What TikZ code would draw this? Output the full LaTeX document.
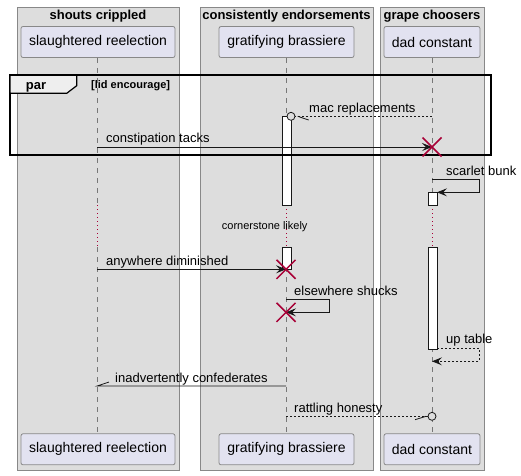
\documentclass[tikz,border=0pt]{standalone}
\usepackage{fontspec}
\setmainfont{Liberation Sans}
\usetikzlibrary{arrows.meta,calc}
\definecolor{grpfill}{HTML}{DDDDDD}
\definecolor{grpline}{HTML}{888888}
\definecolor{partfill}{HTML}{E2E2F0}
\definecolor{partline}{HTML}{888888}
\definecolor{lifec}{HTML}{777777}
\definecolor{xred}{HTML}{A80036}
\definecolor{tabfill}{HTML}{EEEEEE}
\definecolor{ink}{HTML}{181818}
\tikzset{
  grp/.style={draw=grpline, fill=grpfill, line width=0.8pt},
  grptitle/.style={font=\fontsize{13}{15}\selectfont\bfseries, anchor=base, inner sep=0pt},
  part/.style={draw=partline, fill=partfill, rounded corners=2pt, line width=0.8pt,
    font=\fontsize{14}{16}\selectfont, inner sep=0pt, minimum height=31},
  life/.style={draw=lifec, line width=0.8pt, dash pattern=on 5pt off 5pt},
  delayline/.style={draw=xred, line width=0.8pt, dash pattern=on 1pt off 3pt},
  actbar/.style={draw=ink, fill=white, line width=0.8pt},
  msg/.style={draw=ink, line width=0.8pt},
  dmsg/.style={draw=ink, line width=0.8pt, dash pattern=on 2pt off 2pt},
  headed/.style={-{Stealth[length=10pt,width=8pt,inset=4pt]}},
  lbl/.style={font=\fontsize{13}{15}\selectfont, anchor=base west, inner sep=0pt},
  destroyx/.style={draw=xred, line width=1.5pt},
  frameline/.style={draw=black, line width=1.5pt},
}
\begin{document}
\begin{tikzpicture}[x=1pt,y=-1pt]
\useasboundingbox (0,0) rectangle (521,475);
% groups
\draw[grp] (17,7) rectangle (179,470);
\draw[grp] (200,7) rectangle (373,470);
\draw[grp] (380,7) rectangle (484,470);
\node[grptitle] (g1) at (98,19.5) {shouts crippled};
\node[grptitle] (g2) at (286.5,19.5) {consistently endorsements};
\node[grptitle] (g3) at (432,19.5) {grape choosers};
% participants
\node[part, minimum width=154] (p1) at (98,42) {slaughtered reelection};
\node[part, minimum width=135] (p2) at (286.5,42) {gratifying brassiere};
\node[part, minimum width=96] (p3) at (432,42) {dad constant};
\node[part, minimum width=154] (q1) at (98,449.3) {slaughtered reelection};
\node[part, minimum width=135] (q2) at (286.5,449.3) {gratifying brassiere};
\node[part, minimum width=96] (q3) at (432,449.3) {dad constant};
% lifeline coordinates
\coordinate (a1) at (97,205); \coordinate (b1) at (97,247);
\coordinate (a2) at (286,205); \coordinate (b2) at (286,247);
\coordinate (a3) at (432,205); \coordinate (b3) at (432,247);
\draw[life] (p1.south -| a1) -- (a1);
\draw[delayline] (a1) -- (b1);
\draw[life] (b1) -- (q1.north -| b1);
\draw[life] (p2.south -| a2) -- (a2);
\draw[delayline] (a2) -- (b2);
\draw[life] (b2) -- (q2.north -| b2);
\draw[life] (p3.south -| a3) -- (a3);
\draw[delayline] (a3) -- (b3);
\draw[life] (b3) -- (q3.north -| b3);
% activation bars
\draw[actbar] (282,116.3) rectangle (291,205.7);
\draw[actbar] (282,247.3) rectangle (291,269.3);
\draw[actbar] (428,192.3) rectangle (437,205.7);
\draw[actbar] (428,247.3) rectangle (437,349);
% par frame
\draw[frameline] (10,75) rectangle (491,155);
\draw[draw=black, line width=1.2pt, fill=tabfill] (10,75) -- (76.7,75) -- (76.7,85.7) -- (66.7,93.3) -- (10,93.3) -- cycle;
\draw[frameline] (10,75) -- (491,75);
\node[font=\fontsize{13}{15}\selectfont\bfseries, anchor=base, inner sep=0pt] (parlbl) at (36,89) {par};
\node[font=\fontsize{11}{13}\selectfont\bfseries, anchor=base west, inner sep=0pt] (guard) at (91,88) {[lid encourage]};
% message 1: mac replacements
\coordinate (m1s) at (432,116.3);
\coordinate (m1c) at (291,116.3);
\coordinate (m1t) at (295,116.3);
\coordinate (m1h) at (308.7,120);
\coordinate (m1hh) at (297.7,116.3);
\draw[dmsg] (m1s) -- (m1t);
\draw[msg] (m1hh) -- (m1h);
\draw[msg, fill=grpfill] (m1c) circle (4);
\node[lbl] (l1) at (309,112.5) {mac replacements};
% message 2: constipation tacks
\coordinate (m2s) at (97,147);
\coordinate (m2e) at (432,147);
\draw[msg, headed] (m2s) -- (m2e);
\node[lbl] (l2) at (106,142) {constipation tacks};
% redraw frame bottom line over
\draw[frameline] (10,155) -- (491,155);
% message 3: scarlet bunk
\coordinate (m3s) at (432,179.3);
\coordinate (m3a) at (479,179.3);
\coordinate (m3b) at (479,192.3);
\coordinate (m3e) at (437,192.3);
\draw[msg, headed] (m3s) -- (m3a) -- (m3b) -- (m3e);
\node[lbl] (l3) at (446,175) {scarlet bunk};
% delay
\node[font=\fontsize{11}{13}\selectfont, inner sep=0pt] (delay) at (264.7,227) {cornerstone likely};
% message 4: anywhere diminished
\coordinate (m4s) at (97,269.3);
\coordinate (m4e) at (286,269.3);
\draw[msg, headed] (m4s) -- (m4e);
\node[lbl] (l4) at (106,265) {anywhere diminished};
% message 5: elsewhere shucks
\coordinate (m5s) at (286,299.3);
\coordinate (m5a) at (329,299.3);
\coordinate (m5b) at (329,312.3);
\coordinate (m5e) at (286,312.3);
\draw[msg, headed] (m5s) -- (m5a) -- (m5b) -- (m5e);
\node[lbl] (l5) at (294,295) {elsewhere shucks};
% message 6: up table
\coordinate (m6s) at (437,348.3);
\coordinate (m6a) at (479,348.3);
\coordinate (m6b) at (479,361.3);
\coordinate (m6e) at (432,361.3);
\draw[dmsg, headed] (m6s) -- (m6a) -- (m6b) -- (m6e);
\node[lbl] (l6) at (446,343) {up table};
% message 7: inadvertently confederates
\coordinate (m7s) at (286,386);
\coordinate (m7e) at (97,386);
\coordinate (m7h) at (109,382);
\draw[msg] (m7s) -- (m7e) -- (m7h);
\node[lbl] (l7) at (115,382) {inadvertently confederates};
% message 8: rattling honesty
\coordinate (m8s) at (286,416.3);
\coordinate (m8c) at (432,416.3);
\coordinate (m8t) at (428,416.3);
\coordinate (m8hh) at (426,416.3);
\coordinate (m8h) at (415,419.7);
\draw[dmsg] (m8s) -- (m8t);
\draw[msg] (m8hh) -- (m8h);
\draw[msg, fill=grpfill] (m8c) circle (4);
\node[lbl] (l8) at (294,412) {rattling honesty};
% destroy marks
\draw[destroyx] ($(m2e)+(-9.5,-9.5)$) -- ($(m2e)+(9.5,9.5)$);
\draw[destroyx] ($(m2e)+(-9.5,9.5)$) -- ($(m2e)+(9.5,-9.5)$);
\draw[destroyx] ($(m4e)+(-9.5,-9.5)$) -- ($(m4e)+(9.5,9.5)$);
\draw[destroyx] ($(m4e)+(-9.5,9.5)$) -- ($(m4e)+(9.5,-9.5)$);
\draw[destroyx] ($(m5e)+(-9.5,-9.5)$) -- ($(m5e)+(9.5,9.5)$);
\draw[destroyx] ($(m5e)+(-9.5,9.5)$) -- ($(m5e)+(9.5,-9.5)$);
\end{tikzpicture}
\end{document}
